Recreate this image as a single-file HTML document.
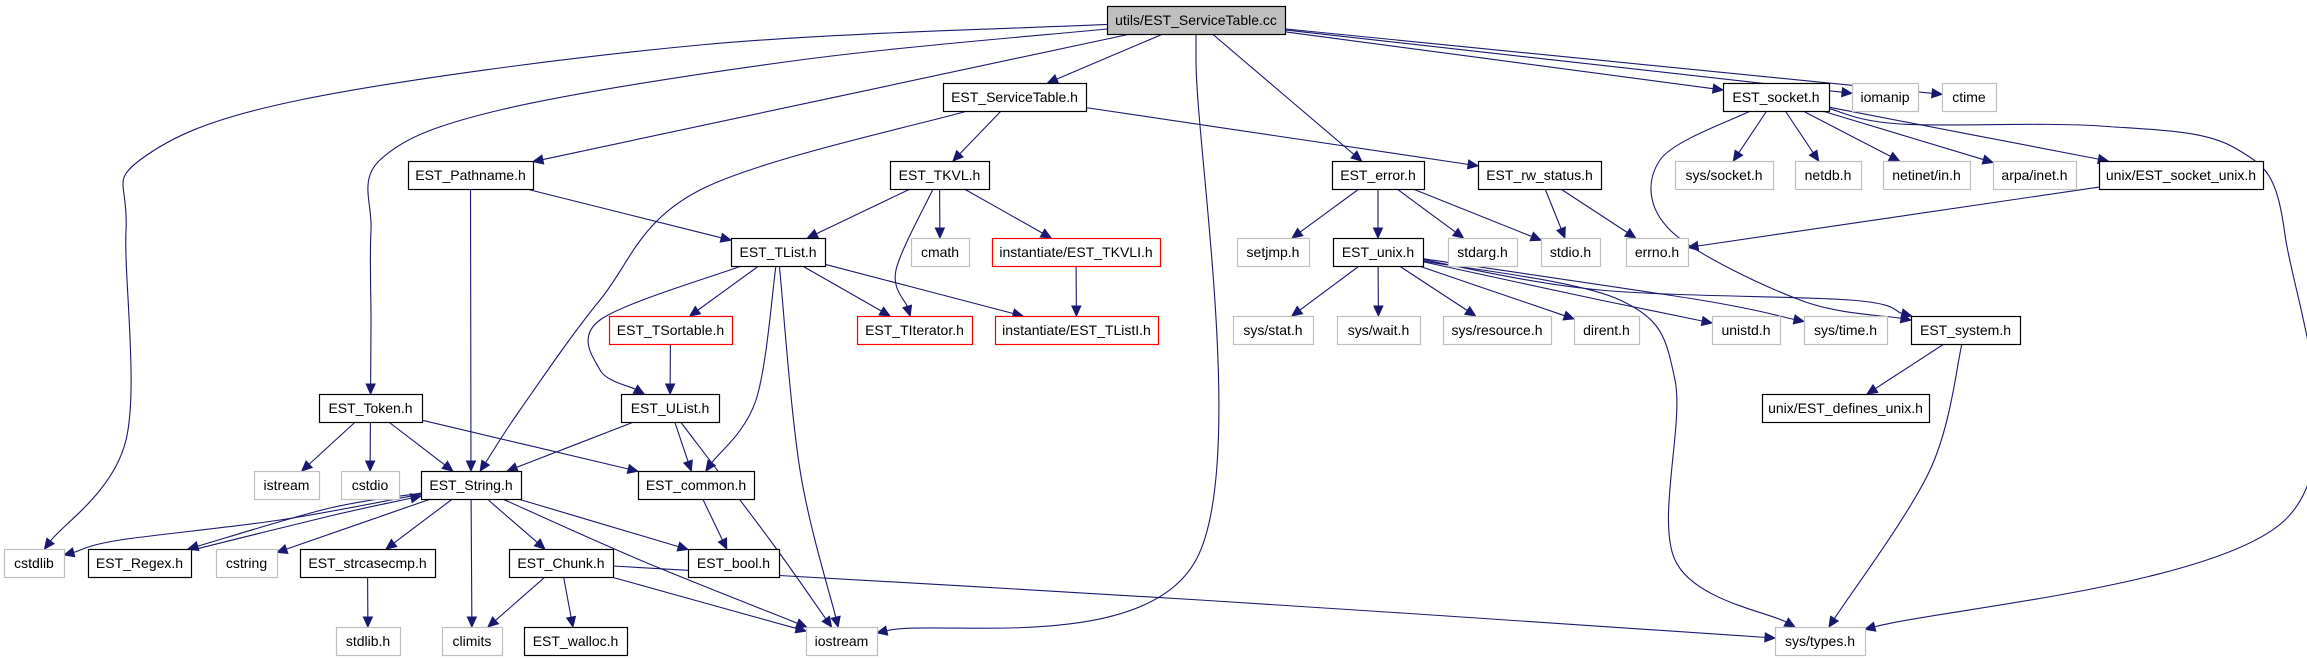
<!DOCTYPE html>
<html><head><meta charset="utf-8"><style>
html,body{margin:0;padding:0;background:#fff;}
svg{display:block;}
text{font-family:"Liberation Sans",sans-serif;font-size:14px;}
</style></head><body>
<svg id="g" width="2307" height="659" xmlns="http://www.w3.org/2000/svg"></svg>
<script>
var R=[20,97,175,252,330,408,485,563,641];
var N={
main:[1107,1285,0,'utils/EST_ServiceTable.cc','m'],
svc:[943,1086,1,'EST_ServiceTable.h','b'],
sock:[1723,1829,1,'EST_socket.h','b'],
iomanip:[1852,1918,1,'iomanip','g'],
ctime:[1942,1996,1,'ctime','g'],
path:[408,533,2,'EST_Pathname.h','b'],
tkvl:[890,989,2,'EST_TKVL.h','b'],
err:[1332,1424,2,'EST_error.h','b'],
rw:[1478,1601,2,'EST_rw_status.h','b'],
syssock:[1675,1773,2,'sys/socket.h','g'],
netdb:[1795,1861,2,'netdb.h','g'],
netinet:[1883,1970,2,'netinet/in.h','g'],
arpa:[1993,2076,2,'arpa/inet.h','g'],
sockunix:[2099,2263,2,'unix/EST_socket_unix.h','b'],
tlist:[731,825,3,'EST_TList.h','b'],
cmath:[911,969,3,'cmath','g'],
tkvli:[992,1160,3,'instantiate/EST_TKVLI.h','r'],
setjmp:[1237,1309,3,'setjmp.h','g'],
unix:[1333,1423,3,'EST_unix.h','b'],
stdarg:[1448,1517,3,'stdarg.h','g'],
stdio:[1541,1600,3,'stdio.h','g'],
errno:[1626,1688,3,'errno.h','g'],
tsort:[609,732,4,'EST_TSortable.h','r'],
titer:[857,972,4,'EST_TIterator.h','r'],
tlisti:[995,1158,4,'instantiate/EST_TListI.h','r'],
sstat:[1233,1313,4,'sys/stat.h','g'],
swait:[1337,1420,4,'sys/wait.h','g'],
sres:[1443,1551,4,'sys/resource.h','g'],
dirent:[1574,1639,4,'dirent.h','g'],
unistd:[1712,1780,4,'unistd.h','g'],
stime:[1804,1887,4,'sys/time.h','g'],
system:[1911,2020,4,'EST_system.h','b'],
token:[319,422,5,'EST_Token.h','b'],
ulist:[621,719,5,'EST_UList.h','b'],
defs:[1762,1929,5,'unix/EST_defines_unix.h','b'],
istream:[254,319,6,'istream','g'],
cstdio:[341,399,6,'cstdio','g'],
str:[421,521,6,'EST_String.h','b'],
common:[638,754,6,'EST_common.h','b'],
cstdlib:[4,64,7,'cstdlib','g'],
regex:[88,191,7,'EST_Regex.h','b'],
cstring:[216,277,7,'cstring','g'],
strcase:[300,435,7,'EST_strcasecmp.h','b'],
chunk:[509,613,7,'EST_Chunk.h','b'],
bool:[688,779,7,'EST_bool.h','b'],
stdlib:[336,400,8,'stdlib.h','g'],
climits:[442,502,8,'climits','g'],
walloc:[524,627,8,'EST_walloc.h','b'],
iostream:[806,877,8,'iostream','g'],
systypes:[1775,1865,8,'sys/types.h','g']
};
var E=[
['main','cstdlib',[[700,45],[300,100],[140,160],[126,230],[126,440]]],
['main','token',[[800,60],[500,110],[380,160],[371,230],[371,320]]],
['main','path'],['main','svc'],
['main','iostream',[[1196,60],[1196,560]]],
['main','err'],['main','sock'],['main','iomanip'],['main','ctime'],
['svc','str',[[700,190],[600,300],[520,410]]],
['svc','tkvl'],['svc','rw'],
['path','str'],['path','tlist'],
['tkvl','tlist'],['tkvl','titer',[[896,270]]],['tkvl','cmath'],['tkvl','tkvli'],
['tkvli','tlisti'],
['tlist','tsort'],['tlist','ulist',[[600,320],[600,370]]],['tlist','common',[[756,400]]],
['tlist','iostream',[[800,470]]],['tlist','titer'],['tlist','tlisti'],
['tsort','ulist'],
['ulist','str'],['ulist','common'],['ulist','iostream',[[770,540]]],
['token','istream'],['token','cstdio'],['token','str'],['token','common'],
['str','cstdlib',[[280,520],[120,540]]],['str','regex',[[330,508]]],['regex','str',[[330,516]]],
['str','cstring'],['str','strcase'],['str','climits'],['str','chunk'],['str','bool'],
['str','iostream',[[640,560]]],
['common','bool'],['strcase','stdlib'],
['chunk','climits'],['chunk','walloc'],['chunk','iostream'],['chunk','systypes',[[1200,600]]],
['err','setjmp'],['err','unix'],['err','stdarg'],['err','stdio'],
['rw','stdio'],['rw','errno'],
['unix','sstat'],['unix','swait'],['unix','sres'],['unix','dirent'],['unix','unistd',[[1600,300]]],
['unix','stime',[[1700,300]]],['unix','system',[[1600,290],[1850,300]]],
['unix','systypes',[[1620,300],[1675,380],[1675,560]]],
['sock','syssock'],['sock','netdb'],['sock','netinet'],['sock','arpa'],['sock','sockunix'],
['sock','system',[[1660,160],[1670,230],[1800,300]]],
['sock','systypes',[[1900,124],[2100,126],[2235,148],[2285,235],[2285,520]]],
['sockunix','errno'],
['system','defs'],['system','systypes',[[1930,470]]]
];
var ns='http://www.w3.org/2000/svg',svg=document.getElementById('g');
function el(t,a,txt){var e=document.createElementNS(ns,t);for(var k in a)e.setAttribute(k,a[k]);if(txt)e.textContent=txt;svg.appendChild(e);return e;}
function box(n){var d=N[n];return {x1:d[0],x2:d[1],y1:R[d[2]]-14,y2:R[d[2]]+14,cx:(d[0]+d[1])/2,cy:R[d[2]]};}
function clip(b,px,py){
 var dx=px-b.cx,dy=py-b.cy,t=1e9;
 if(dx!==0){var tx=((dx>0?b.x2:b.x1)-b.cx)/dx;if(tx>0)t=Math.min(t,tx);}
 if(dy!==0){var ty=((dy>0?b.y2:b.y1)-b.cy)/dy;if(ty>0)t=Math.min(t,ty);}
 return [b.cx+dx*t,b.cy+dy*t];}
var C='#191970';
E.forEach(function(e){
 var a=box(e[0]),b=box(e[1]),w=e[2]||[];
 var first=w.length?w[0]:[b.cx,b.cy],last=w.length?w[w.length-1]:[a.cx,a.cy];
 var s=clip(a,first[0],first[1]),t=clip(b,last[0],last[1]);
 var dx=t[0]-last[0],dy=t[1]-last[1];
 if(!w.length){dx=t[0]-s[0];dy=t[1]-s[1];}
 var L=Math.hypot(dx,dy);dx/=L;dy/=L;
 var al=10,aw=4.5;var tb=[t[0]-dx*al,t[1]-dy*al];
 var P=[s].concat(w).concat([tb]);
 var d='M'+P[0][0]+','+P[0][1];
 for(var i=0;i<P.length-1;i++){
  var p0=P[i-1]||P[i],p1=P[i],p2=P[i+1],p3=P[i+2]||P[i+1];
  var c1=[p1[0]+(p2[0]-p0[0])/6,p1[1]+(p2[1]-p0[1])/6],c2=[p2[0]-(p3[0]-p1[0])/6,p2[1]-(p3[1]-p1[1])/6];
  d+=' C'+c1+' '+c2+' '+p2;}
 el('path',{d:d,fill:'none',stroke:C,'stroke-width':1.1});
 el('polygon',{points:t+' '+[tb[0]-dy*aw,tb[1]+dx*aw]+' '+[tb[0]+dy*aw,tb[1]-dx*aw],fill:C,stroke:C});
});
for(var n in N){var b=box(n),k=N[n][4];
 var st=k=='g'?'#bfbfbf':k=='r'?'#ff0000':'#000000';
 el('rect',{x:b.x1+0.5,y:b.y1+0.5,width:b.x2-b.x1,height:b.y2-b.y1,fill:k=='m'?'#bfbfbf':'#fff',stroke:st,'stroke-width':1.2});
 el('text',{x:b.cx,y:b.cy+5,'text-anchor':'middle',fill:'#000'},N[n][3]);}
</script>
</body></html>
